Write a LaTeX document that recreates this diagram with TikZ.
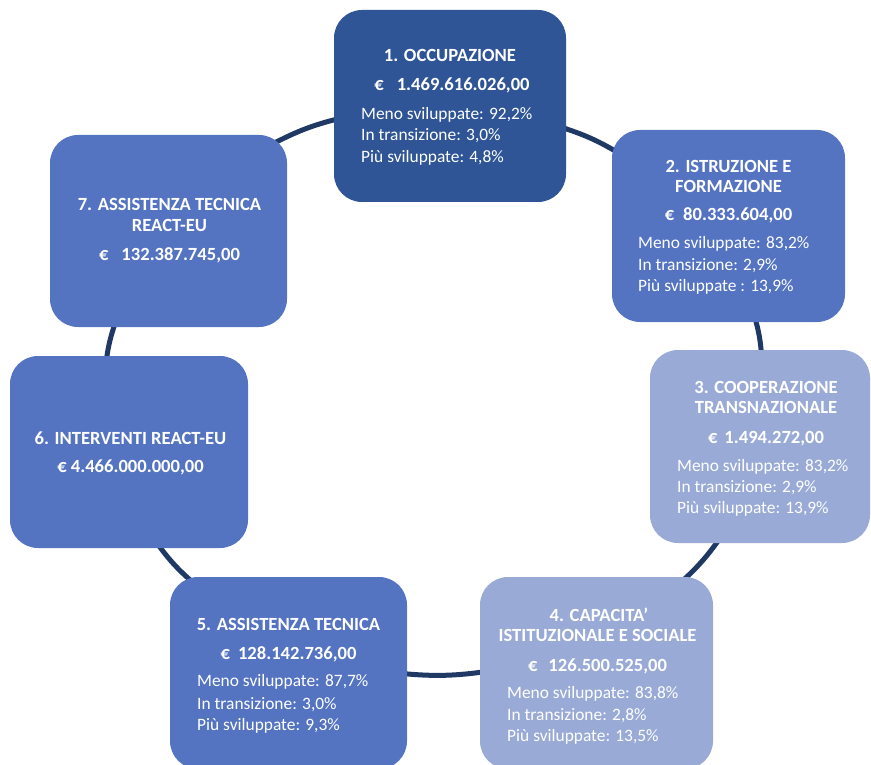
\documentclass[tikz,border=0pt]{standalone}
\usepackage{fontspec}
\setmainfont{Carlito}
\usetikzlibrary{backgrounds,calc}
\definecolor{cDark}{HTML}{2F5597}
\definecolor{cMid}{HTML}{5474C2}
\definecolor{cLight}{HTML}{99AAD6}
\definecolor{cLine}{HTML}{203864}
\begin{document}
\begin{tikzpicture}[x=1pt,y=-1pt,
  box/.style={rounded corners=28pt, inner sep=0pt, draw=none, minimum height=192pt},
  ttl/.style={font=\fontsize{18.6}{20}\selectfont\bfseries, text=white, inner sep=0pt, anchor=base},
  det/.style={font=\fontsize{17.4}{21}\selectfont, text=white, inner sep=0pt, anchor=base west},
  link/.style={draw=cLine, line width=5pt, bend left=7}]
\useasboundingbox (0,0) rectangle (871,765);

% boxes
\node[box, fill=cDark,  minimum width=232pt] (b1) at (450,106) {};
\node[box, fill=cMid,   minimum width=233pt] (b2) at (728.5,226) {};
\node[box, fill=cLight, minimum width=220pt, minimum height=193pt] (b3) at (760,446.5) {};
\node[box, fill=cLight, minimum width=233pt] (b4) at (596.5,673) {};
\node[box, fill=cMid,   minimum width=237pt] (b5) at (288.5,673) {};
\node[box, fill=cMid,   minimum width=238pt] (b6) at (129,452) {};
\node[box, fill=cMid,   minimum width=237pt] (b7) at (168.5,231) {};

% connectors
\begin{scope}[on background layer]
\draw[link] ($(b7.center)+(103,-86.5)$) to ($(b1.center)+(-106.6,11.5)$);
\draw[link] ($(b1.center)+(106.9,19.9)$) to ($(b2.center)+(-106.4,-70.9)$);
\draw[link] ($(b2.center)+(24.7,86.1)$) to ($(b3.center)+(1.8,-86.6)$);
\draw[link] ($(b3.center)+(-38.2,89.1)$) to ($(b4.center)+(79.7,-86.6)$);
\draw[link] ($(b4.center)+(-106.5,-2)$) to ($(b5.center)+(108.5,0)$);
\draw[link] ($(b5.center)+(-91.7,-87.2)$) to ($(b6.center)+(26.2,88.7)$);
\draw[link] ($(b6.center)+(-23.3,-86.3)$) to ($(b7.center)+(-51.1,86.3)$);
\end{scope}

% box 1
\node[ttl] (t1) at (450,62) {1. OCCUPAZIONE};
\node[ttl] (a1) at (452,91) {€\hspace{13pt}1.469.616.026,00};
\node[det] (d1a) at (361,119.5) {Meno sviluppate: 92,2\%};
\node[det] (d1b) at (361,141) {In transizione: 3,0\%};
\node[det] (d1c) at (361,162.5) {Più sviluppate: 4,8\%};

% box 2
\node[ttl] (t2a) at (728.5,173) {2. ISTRUZIONE E};
\node[ttl] (t2b) at (728.5,193) {FORMAZIONE};
\node[ttl] (a2) at (728.5,221) {€\hspace{9pt}80.333.604,00};
\node[det] (d2a) at (638,248.5) {Meno sviluppate: 83,2\%};
\node[det] (d2b) at (638,270) {In transizione: 2,9\%};
\node[det] (d2c) at (638,291.5) {Più sviluppate : 13,9\%};

% box 3
\node[ttl] (t3a) at (766,393) {3. COOPERAZIONE};
\node[ttl] (t3b) at (766,413) {TRANSNAZIONALE};
\node[ttl] (a3) at (766,443) {€\hspace{7pt}1.494.272,00};
\node[det] (d3a) at (677,471.5) {Meno sviluppate: 83,2\%};
\node[det] (d3b) at (677,492) {In transizione: 2,9\%};
\node[det] (d3c) at (677,513) {Più sviluppate: 13,9\%};

% box 4
\node[ttl] (t4a) at (599,621) {4. CAPACITA’};
\node[ttl] (t4b) at (597.5,641) {ISTITUZIONALE E SOCIALE};
\node[ttl] (a4) at (597.5,671) {€\hspace{11pt}126.500.525,00};
\node[det] (d4a) at (507,698.5) {Meno sviluppate: 83,8\%};
\node[det] (d4b) at (507,720) {In transizione: 2,8\%};
\node[det] (d4c) at (507,741.5) {Più sviluppate: 13,5\%};

% box 5
\node[ttl] (t5) at (288.5,630) {5. ASSISTENZA TECNICA};
\node[ttl] (a5) at (288.5,659) {€\hspace{8pt}128.142.736,00};
\node[det] (d5a) at (197,686.5) {Meno sviluppate: 87,7\%};
\node[det] (d5b) at (197,709) {In transizione: 3,0\%};
\node[det] (d5c) at (197,730.5) {Più sviluppate: 9,3\%};

% box 6
\node[ttl] (t6) at (130.5,444) {6. INTERVENTI REACT-EU};
\node[ttl] (a6) at (130.5,472) {€ 4.466.000.000,00};

% box 7
\node[ttl] (t7a) at (169.5,211) {7. ASSISTENZA TECNICA};
\node[ttl] (t7b) at (169.5,232) {REACT-EU};
\node[ttl] (a7) at (169.5,261) {€\hspace{13pt}132.387.745,00};
\end{tikzpicture}
\end{document}
